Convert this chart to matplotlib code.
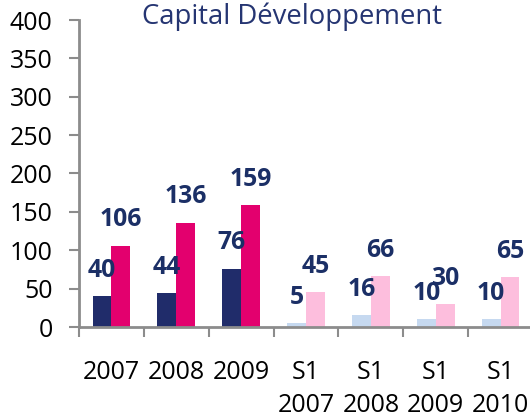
import matplotlib
matplotlib.use("Agg")
from matplotlib import pyplot as plt
import numpy as np

categories = ['2007', '2008', '2009', 'S1\n2007', 'S1\n2008', 'S1\n2009', 'S1\n2010']
serie_a = [40, 44, 76, 5, 16, 10, 10]        # barres foncées / claires (bleu)
serie_b = [106, 136, 159, 45, 66, 30, 65]    # barres roses
yticks = [0, 50, 100, 150, 200, 250, 300, 350, 400]

navy = '#202C6A'
pink = '#E3006E'
light_blue = '#C6D9F0'
light_pink = '#FDBEDD'
label_col = '#1B2F66'

plt.rcParams['font.family'] = ['Open Sans', 'DejaVu Sans']

fig = plt.figure(figsize=(5.3, 4.15), dpi=100)
ax = fig.add_axes([79 / 530, 88 / 415, 454 / 530, 307 / 415])

x = np.arange(len(categories))
w = 0.29
col_a = [navy] * 3 + [light_blue] * 4
col_b = [pink] * 3 + [light_pink] * 4

bars_a = ax.bar(x - w / 2, serie_a, w, color=col_a, label='Nombre d\'entreprises')
bars_b = ax.bar(x + w / 2, serie_b, w, color=col_b, label='Montants investis')

for bars, vals in ((bars_a, serie_a), (bars_b, serie_b)):
    for b, v in zip(bars, vals):
        ax.annotate(str(v), (b.get_x() + b.get_width() / 2, v),
                    xytext=(0, 18.5), textcoords='offset points',
                    ha='center', va='center', fontsize=17.8, fontweight='bold',
                    color=label_col, annotation_clip=False)

ax.set_xlim(-0.5, len(categories) - 0.5)
ax.set_ylim(0, 400)
ax.set_yticks(yticks)
ax.tick_params(axis='y', labelsize=18, length=7, width=1.5, color='#8C8C8C', pad=12)

ax.set_xticks(x)
ax.set_xticklabels(categories, fontsize=18, linespacing=1.42)
ax.tick_params(axis='x', length=0, pad=24)
ax.set_xticks(np.arange(len(categories) + 1) - 0.5, minor=True)
ax.tick_params(axis='x', which='minor', length=7, width=1.5, color='#8C8C8C')

for s in ('top', 'right'):
    ax.spines[s].set_visible(False)
for s in ('left', 'bottom'):
    ax.spines[s].set_color('#8C8C8C')
    ax.spines[s].set_linewidth(2)

fig.text(292 / 530, 1 - 17 / 415, 'Capital Développement', ha='center', va='center',
         fontsize=19.8, color='#253572')

fig.legend(handles=[bars_a[0], bars_b[0]], loc='upper left',
           bbox_to_anchor=(0.005, 0.013), ncol=2, frameon=False,
           fontsize=14, labelcolor='#A0A0C0', handlelength=1.0, handleheight=1.0)

fig.savefig('out.png', dpi=100)
